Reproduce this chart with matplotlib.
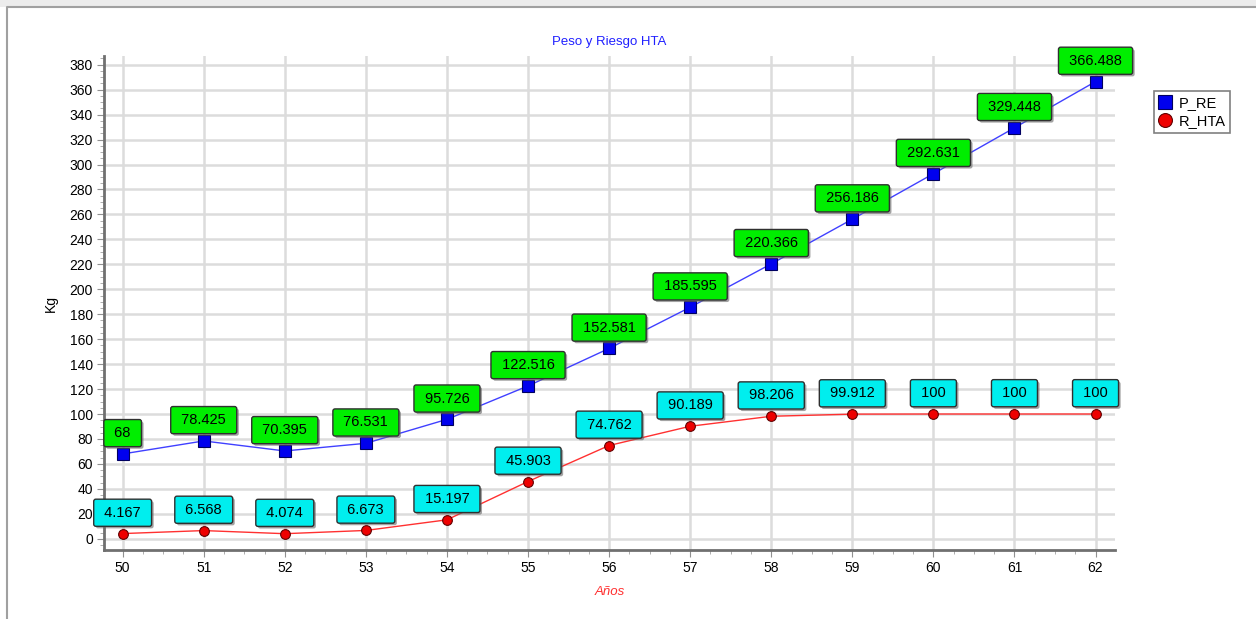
import matplotlib
matplotlib.use("Agg")
from matplotlib import pyplot as plt
from matplotlib.ticker import MultipleLocator
import matplotlib.patheffects as pe
from matplotlib.patches import Rectangle
from matplotlib.lines import Line2D

years = [50, 51, 52, 53, 54, 55, 56, 57, 58, 59, 60, 61, 62]
p_re = [68, 78.425, 70.395, 76.531, 95.726, 122.516, 152.581, 185.595,
        220.366, 256.186, 292.631, 329.448, 366.488]
r_hta = [4.167, 6.568, 4.074, 6.673, 15.197, 45.903, 74.762, 90.189,
         98.206, 99.912, 100, 100, 100]
p_labels = ["68", "78.425", "70.395", "76.531", "95.726", "122.516", "152.581",
            "185.595", "220.366", "256.186", "292.631", "329.448", "366.488"]
r_labels = ["4.167", "6.568", "4.074", "6.673", "15.197", "45.903", "74.762",
            "90.189", "98.206", "99.912", "100", "100", "100"]

plt.rcParams["font.family"] = ["Liberation Sans", "DejaVu Sans"]

fig = plt.figure(figsize=(12.56, 6.19), dpi=100)
fig.patch.set_facecolor("white")
# window-like frame
fig.patches.append(Rectangle((0, 1 - 7 / 619), 1, 7 / 619, transform=fig.transFigure,
                             facecolor="#ececec", edgecolor="none", zorder=0))
fig.lines.append(Line2D([7 / 1256, 7 / 1256, 1], [0, 1 - 7 / 619, 1 - 7 / 619],
                        transform=fig.transFigure, color="#a0a0a0", lw=1.5))

ax = fig.add_axes([104 / 1256, 1 - 550 / 619, (1115 - 104) / 1256, (550 - 56) / 619])
ax.set_xlim(49.77, 62.24)
ax.set_ylim(-9, 387)

ax.yaxis.set_major_locator(MultipleLocator(20))
ax.yaxis.set_minor_locator(MultipleLocator(5))
ax.xaxis.set_major_locator(MultipleLocator(1))
ax.xaxis.set_minor_locator(MultipleLocator(0.25))
ax.grid(True, which="major", color="#dcdcdc", lw=1.8)
ax.set_axisbelow(True)

for s in ["top", "right"]:
    ax.spines[s].set_visible(False)
for s in ["left", "bottom"]:
    ax.spines[s].set_color("#707070")
    ax.spines[s].set_linewidth(2)
ax.tick_params(which="major", length=5, color="#909090", labelsize=10, pad=3)
ax.tick_params(which="minor", length=3, color="#a0a0a0")

ax.plot(years, p_re, color="#4040ff", lw=1, marker="s", markersize=8,
        markerfacecolor="#0000ee", markeredgecolor="#000060", markeredgewidth=0.8,
        label="P_RE", zorder=3)
ax.plot(years, r_hta, color="#ff3030", lw=1, marker="o", markersize=7,
        markerfacecolor="#ee0000", markeredgecolor="#600000", markeredgewidth=0.8,
        label="R_HTA", zorder=3)

shadow = [pe.SimplePatchShadow(offset=(1.5, -1.5), shadow_rgbFace="#666666", alpha=0.6),
          pe.Normal()]


def label(x, y, t, fc):
    a = ax.annotate(" " + t + " ", (x, y), xytext=(0, 15), textcoords="offset points",
                    ha="center", va="center", fontsize=10.5, zorder=5,
                    bbox=dict(boxstyle="round,pad=0.45,rounding_size=0.15",
                              fc=fc, ec="#303030", lw=1))
    a.get_bbox_patch().set_path_effects(shadow)


for x, y, t in zip(years, p_re, p_labels):
    label(x, y, t, "#00ee00")
for x, y, t in zip(years, r_hta, r_labels):
    label(x, y, t, "#00eeee")

ax.set_title("Peso y Riesgo HTA", color="#2020ff", fontsize=9.5, pad=8)
ax.set_ylabel("Kg", fontsize=10, labelpad=8)
ax.set_xlabel("Años", color="#ff3030", fontstyle="italic", fontsize=9.5, labelpad=8)

leg = fig.legend(loc="upper left", bbox_to_anchor=(1147 / 1256, 1 - 84 / 619),
                 fontsize=10.5, frameon=True, fancybox=False, handlelength=0.8,
                 handletextpad=0.5, borderpad=0.35, labelspacing=0.25)
leg.get_frame().set_edgecolor("#606060")
leg.get_frame().set_linewidth(1.2)
for h in leg.legend_handles:
    h.set_linestyle("none")
    h.set_markersize(10)

fig.savefig("out.png", dpi=100)
